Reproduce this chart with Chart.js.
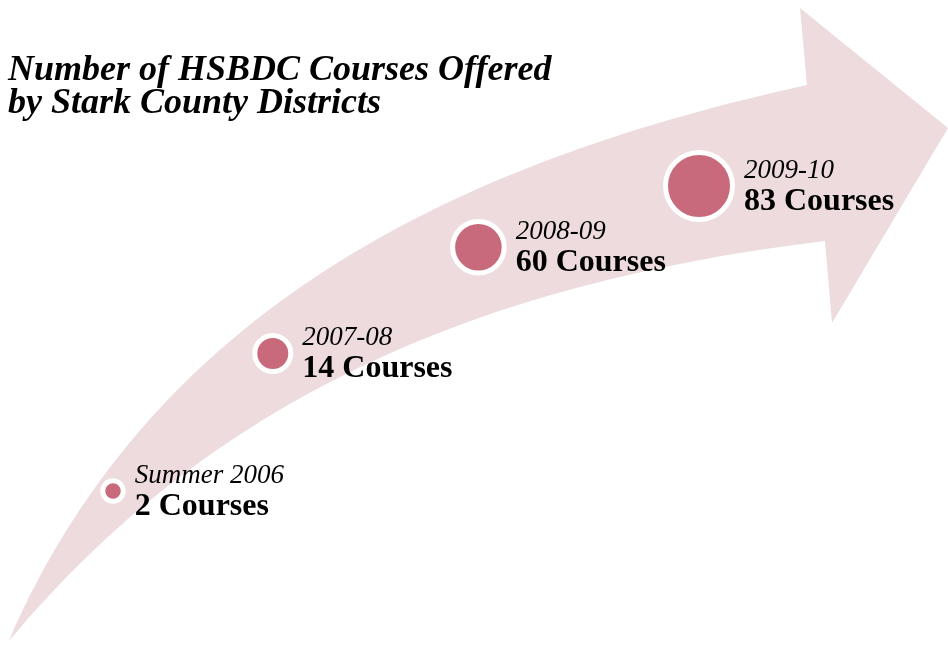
<!DOCTYPE html>
<html>
<head>
<meta charset="utf-8">
<title>HSBDC Courses Offered</title>
<script src="https://cdn.jsdelivr.net/npm/chart.js@4.4.1/dist/chart.umd.min.js"></script>
<style>
  html, body { margin: 0; padding: 0; background: #fff; }
  #wrap { width: 948px; height: 645px; position: relative; }
</style>
</head>
<body>
<div id="wrap"><canvas id="chart"></canvas></div>
<script>
const titleLines = ['Number of HSBDC Courses Offered', 'by Stark County Districts'];
const periods = ['Summer 2006', '2007-08', '2008-09', '2009-10'];
const courses = [2, 14, 60, 83];
// how far along the arrow each period sits (0 = first dot, 1 = last dot)
const stops = [0, 0.33, 0.68, 1];

const W = 948, H = 645;
const PINK = 'rgb(237, 219, 221)';
const DOT = 'rgb(200, 106, 123)';
const SERIF = '"Liberation Serif", "Times New Roman", serif';

// line the dots follow, in page units (y goes down)
const track = [[113, 491], [330, 255], [699, 186]];
function onTrack(t) {
  const a = (1 - t) * (1 - t), b = 2 * t * (1 - t), c = t * t;
  return [
    a * track[0][0] + b * track[1][0] + c * track[2][0],
    a * track[0][1] + b * track[1][1] + c * track[2][1]
  ];
}

// background arrow: two cubic edges from the tail, then the head
const upperEdge = [[9, 641], [159, 296], [477, 158], [807, 85]];
const lowerEdge = [[9, 641], [209, 401], [475, 283], [825, 241]];
const head = [[800, 8], [948, 128], [832, 323]];

const arrowPlugin = {
  id: 'arrow',
  beforeDatasetsDraw(chart) {
    const { ctx, scales: { x, y } } = chart;
    const px = p => [x.getPixelForValue(p[0]), y.getPixelForValue(p[1])];
    const up = upperEdge.map(px);
    const low = lowerEdge.map(px);
    ctx.save();
    ctx.beginPath();
    ctx.moveTo(up[0][0], up[0][1]);
    ctx.bezierCurveTo(up[1][0], up[1][1], up[2][0], up[2][1], up[3][0], up[3][1]);
    head.map(px).forEach(p => ctx.lineTo(p[0], p[1]));
    ctx.lineTo(low[3][0], low[3][1]);
    ctx.bezierCurveTo(low[2][0], low[2][1], low[1][0], low[1][1], low[0][0], low[0][1]);
    ctx.closePath();
    ctx.fillStyle = PINK;
    ctx.fill();
    ctx.restore();
  }
};

const labelPlugin = {
  id: 'labels',
  afterDatasetsDraw(chart) {
    const ctx = chart.ctx;
    ctx.save();
    ctx.fillStyle = '#000';
    ctx.textAlign = 'left';
    ctx.textBaseline = 'alphabetic';

    // title
    ctx.font = `italic bold 36px ${SERIF}`;
    ctx.fillText(titleLines[0], 8, 80);
    ctx.fillText(titleLines[1], 8, 113);

    const meta = chart.getDatasetMeta(0);
    meta.data.forEach((el, i) => {
      const outer = el.options.radius + el.options.borderWidth / 2;
      const tx = el.x + outer + 9;
      ctx.font = `italic 27px ${SERIF}`;
      ctx.fillText(periods[i], tx, el.y - 8);
      ctx.font = `bold 32px ${SERIF}`;
      ctx.fillText(courses[i] + ' Courses', tx, el.y + 24);
    });
    ctx.restore();
  }
};

const points = courses.map((v, i) => {
  const [px, py] = onTrack(stops[i]);
  return { x: px, y: py, courses: v };
});

new Chart(document.getElementById('chart'), {
  type: 'bubble',
  data: {
    labels: periods,
    datasets: [{
      label: 'Courses',
      data: points,
      backgroundColor: DOT,
      borderColor: '#fff',
      borderWidth: 5,
      // dots grow step by step along the arrow
      radius: ctx => 7.75 * (ctx.dataIndex + 1) + 2.5,
      hoverRadius: 0,
      clip: false
    }]
  },
  options: {
    responsive: true,
    maintainAspectRatio: false,
    animation: false,
    events: [],
    layout: { padding: 0, autoPadding: false },
    plugins: {
      legend: { display: false },
      tooltip: { enabled: false }
    },
    scales: {
      x: { type: 'linear', min: 0, max: W, display: false },
      y: { type: 'linear', min: 0, max: H, reverse: true, display: false }
    }
  },
  plugins: [arrowPlugin, labelPlugin]
});
</script>
</body>
</html>
